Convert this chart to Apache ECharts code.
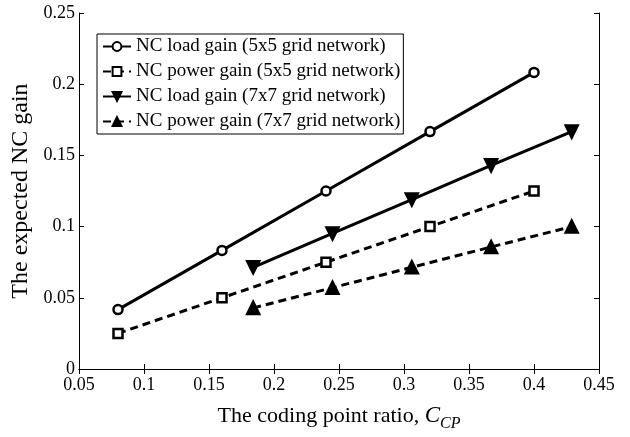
<!DOCTYPE html>
<html>
<head>
<meta charset="utf-8">
<script src="https://cdn.jsdelivr.net/npm/echarts@6/dist/echarts.min.js"></script>
<style>
  html, body { margin: 0; padding: 0; background: #fff; }
  #chart { width: 630px; height: 437px; }
</style>
</head>
<body>
<div id="chart"></div>
<script>
var seriesNames = [
  'NC load gain (5x5 grid network)',
  'NC power gain (5x5 grid network)',
  'NC load gain (7x7 grid network)',
  'NC power gain (7x7 grid network)'
]
var x5 = [0.08, 0.16, 0.24, 0.32, 0.40]
var load5 = [0.0417, 0.0833, 0.125, 0.1667, 0.2083]
var power5 = [0.025, 0.05, 0.075, 0.1, 0.125]
var x7 = [0.184, 0.245, 0.306, 0.367, 0.429]
var load7 = [0.0714, 0.0952, 0.119, 0.143, 0.1667]
var power7 = [0.0429, 0.0571, 0.0714, 0.0857, 0.1]

var font = 'Liberation Serif'

function pairs (xs, ys) {
  return xs.map(function (x, i) { return [x, ys[i]] })
}

function makeSeries (name, xs, ys, symbol, rotate, dashed, filled) {
  return {
    name: name,
    type: 'line',
    data: pairs(xs, ys),
    symbol: symbol,
    symbolSize: symbol === 'triangle' ? 12 : 9,
    symbolRotate: rotate,
    showAllSymbol: true,
    lineStyle: { color: '#000', width: 3, type: dashed ? [8, 5] : 'solid' },
    itemStyle: { color: filled ? '#000' : '#fff', borderColor: '#000', borderWidth: 2.5 },
    emphasis: { disabled: true },
    animation: false
  }
}

var chart = echarts.init(document.getElementById('chart'))
var axisCommon = {
  type: 'value',
  axisLine: { show: true, lineStyle: { color: '#000', width: 1 } },
  axisTick: { show: true, inside: true, length: 5, lineStyle: { color: '#000' } },
  splitLine: { show: false }
}
chart.setOption({
  backgroundColor: '#fff',
  animation: false,
  grid: { left: 79, right: 31, top: 13, bottom: 57 },
  legend: {
    orient: 'vertical',
    left: 97,
    top: 34,
    itemGap: 6,
    itemWidth: 28,
    itemHeight: 11,
    padding: [3, 3, 3, 5],
    borderColor: '#000',
    borderWidth: 1,
    backgroundColor: '#fff',
    textStyle: { fontFamily: font, fontSize: 19, color: '#000' },
    data: seriesNames
  },
  xAxis: [
    Object.assign({}, axisCommon, {
      position: 'bottom',
      min: 0.05, max: 0.45, interval: 0.05,
      axisLabel: { fontFamily: font, fontSize: 18, color: '#000', margin: 7,
        formatter: function (v) { return +v.toFixed(2) + '' } },
      name: 'The coding point ratio, {i|C}{s|CP}',
      nameLocation: 'middle',
      nameGap: 31,
      nameTextStyle: {
        fontFamily: font, fontSize: 22, color: '#000',
        rich: {
          i: { fontFamily: font, fontSize: 23, fontStyle: 'italic', color: '#000' },
          s: { fontFamily: font, fontSize: 16, fontStyle: 'italic', color: '#000', padding: [16, 0, 0, 0] }
        }
      }
    }),
    Object.assign({}, axisCommon, {
      position: 'top',
      min: 0.05, max: 0.45, interval: 0.05,
      axisLabel: { show: false }
    })
  ],
  yAxis: [
    Object.assign({}, axisCommon, {
      position: 'left',
      min: 0, max: 0.25, interval: 0.05,
      axisLabel: { fontFamily: font, fontSize: 18, color: '#000', margin: 4,
        formatter: function (v) { return +v.toFixed(2) + '' } },
      name: 'The expected NC gain',
      nameLocation: 'middle',
      nameGap: 37,
      nameTextStyle: { fontFamily: font, fontSize: 24, color: '#000' }
    }),
    Object.assign({}, axisCommon, {
      position: 'right',
      min: 0, max: 0.25, interval: 0.05,
      axisLabel: { show: false }
    })
  ],
  series: [
    makeSeries(seriesNames[0], x5, load5, 'circle', 0, false, false),
    makeSeries(seriesNames[1], x5, power5, 'rect', 0, true, false),
    makeSeries(seriesNames[2], x7, load7, 'triangle', 180, false, true),
    makeSeries(seriesNames[3], x7, power7, 'triangle', 0, true, true)
  ]
})
</script>
</body>
</html>
